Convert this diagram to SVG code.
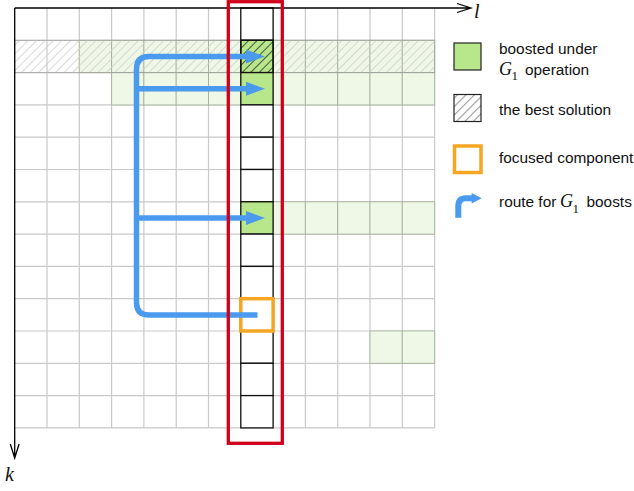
<svg xmlns="http://www.w3.org/2000/svg" width="634" height="491" viewBox="0 0 634 491">
<style>
.grid{stroke:#c9c9c9;stroke-width:1.2;fill:none}
.lg{fill:#eff8e6;stroke:#8c9a80;stroke-opacity:0.6;stroke-width:1}
.col{fill:#fff;stroke:#111;stroke-width:1.3}
.gr{fill:#b8e68a;stroke:#111;stroke-width:1.3}
.axis{stroke:#000;stroke-width:1.3;fill:none}
.route{stroke:#4a9af0;stroke-width:5.5;fill:none}
.txt{font-family:"Liberation Sans",Arial,sans-serif;font-size:15.4px;fill:#111}
.math{font-family:"Liberation Serif","Times New Roman",serif;font-style:italic;fill:#111}
.sub{font-family:"Liberation Serif","Times New Roman",serif;font-size:13px;fill:#111}
</style>
<defs>
<pattern id="hLight" width="6" height="6" patternUnits="userSpaceOnUse" patternTransform="rotate(45)">
<line x1="0" y1="0" x2="0" y2="6" stroke="#cfcfcf" stroke-width="1.6"/>
</pattern>
<pattern id="hDark" width="6" height="6" patternUnits="userSpaceOnUse" patternTransform="rotate(45)">
<line x1="0" y1="0" x2="0" y2="6" stroke="#3a4630" stroke-width="1.8"/>
</pattern>
<pattern id="hLegend" width="6" height="6" patternUnits="userSpaceOnUse" patternTransform="rotate(45)">
<line x1="0" y1="0" x2="0" y2="6" stroke="#999" stroke-width="2.2"/>
</pattern>
<marker id="ah" markerUnits="userSpaceOnUse" markerWidth="20" markerHeight="16" refX="0" refY="8" orient="auto">
<path d="M0,1 L19,8 L0,15 Z" fill="#4a9af0"/>
</marker>
</defs>

<g id="grid">
<path class="grid" d="M47 8V427.9M79.3 8V427.9M111.6 8V427.9M143.9 8V427.9M176.2 8V427.9M208.5 8V427.9M240.8 8V427.9M273.1 8V427.9M305.4 8V427.9M337.7 8V427.9M370 8V427.9M402.3 8V427.9M434.6 8V427.9M14.7 40.3H434.6M14.7 72.6H434.6M14.7 104.9H434.6M14.7 137.2H434.6M14.7 169.5H434.6M14.7 201.8H434.6M14.7 234.1H434.6M14.7 266.4H434.6M14.7 298.7H434.6M14.7 331H434.6M14.7 363.3H434.6M14.7 395.6H434.6M14.7 427.9H434.6"/>
</g>

<g id="light-boosted">
<rect class="lg" x="79.3" y="40.3" width="32.3" height="32.3"/>
<rect class="lg" x="111.6" y="40.3" width="32.3" height="32.3"/>
<rect class="lg" x="143.9" y="40.3" width="32.3" height="32.3"/>
<rect class="lg" x="176.2" y="40.3" width="32.3" height="32.3"/>
<rect class="lg" x="208.5" y="40.3" width="32.3" height="32.3"/>
<rect class="lg" x="273.1" y="40.3" width="32.3" height="32.3"/>
<rect class="lg" x="305.4" y="40.3" width="32.3" height="32.3"/>
<rect class="lg" x="337.7" y="40.3" width="32.3" height="32.3"/>
<rect class="lg" x="370" y="40.3" width="32.3" height="32.3"/>
<rect class="lg" x="402.3" y="40.3" width="32.3" height="32.3"/>
<rect class="lg" x="111.6" y="72.6" width="32.3" height="32.3"/>
<rect class="lg" x="143.9" y="72.6" width="32.3" height="32.3"/>
<rect class="lg" x="176.2" y="72.6" width="32.3" height="32.3"/>
<rect class="lg" x="208.5" y="72.6" width="32.3" height="32.3"/>
<rect class="lg" x="273.1" y="72.6" width="32.3" height="32.3"/>
<rect class="lg" x="305.4" y="72.6" width="32.3" height="32.3"/>
<rect class="lg" x="337.7" y="72.6" width="32.3" height="32.3"/>
<rect class="lg" x="370" y="72.6" width="32.3" height="32.3"/>
<rect class="lg" x="402.3" y="72.6" width="32.3" height="32.3"/>
<rect class="lg" x="273.1" y="201.8" width="32.3" height="32.3"/>
<rect class="lg" x="305.4" y="201.8" width="32.3" height="32.3"/>
<rect class="lg" x="337.7" y="201.8" width="32.3" height="32.3"/>
<rect class="lg" x="370" y="201.8" width="32.3" height="32.3"/>
<rect class="lg" x="402.3" y="201.8" width="32.3" height="32.3"/>
<rect class="lg" x="370" y="331" width="32.3" height="32.3"/>
<rect class="lg" x="402.3" y="331" width="32.3" height="32.3"/>
<rect x="14.7" y="40.3" width="419.9" height="32.3" fill="url(#hLight)" stroke="#9a9a9a" stroke-opacity="0.6" stroke-width="1"/>
</g>

<g id="column">
<rect class="col" x="240.8" y="8" width="32.3" height="32.3"/>
<rect class="gr" x="240.8" y="40.3" width="32.3" height="32.3"/>
<rect x="240.8" y="40.3" width="32.3" height="32.3" fill="url(#hDark)" stroke="#111" stroke-width="1.3"/>
<rect class="gr" x="240.8" y="72.6" width="32.3" height="32.3"/>
<rect class="col" x="240.8" y="104.9" width="32.3" height="32.3"/>
<rect class="col" x="240.8" y="137.2" width="32.3" height="32.3"/>
<rect class="col" x="240.8" y="169.5" width="32.3" height="32.3"/>
<rect class="gr" x="240.8" y="201.8" width="32.3" height="32.3"/>
<rect class="col" x="240.8" y="234.1" width="32.3" height="32.3"/>
<rect class="col" x="240.8" y="266.4" width="32.3" height="32.3"/>
<rect class="col" x="240.8" y="298.7" width="32.3" height="32.3"/>
<rect class="col" x="240.8" y="331" width="32.3" height="32.3"/>
<rect class="col" x="240.8" y="363.3" width="32.3" height="32.3"/>
<rect class="col" x="240.8" y="395.6" width="32.3" height="32.3"/>
</g>

<g id="axes">
<path class="axis" d="M14.7 8H471M457 3.5L471 8L457 12.5"/>
<path class="axis" d="M14.7 8V458M10.3 444L14.7 458L19.1 444"/>
<text class="math" x="474" y="17.5" font-size="20">l</text>
<text class="math" x="5" y="481" font-size="20">k</text>
</g>

<g id="focused">
<rect x="240.8" y="298.7" width="32.3" height="32.3" fill="none" stroke="#f5a623" stroke-width="3.5"/>
</g>

<g id="connectors">
<path class="route" d="M257.5 314.9H149Q136.5 314.9 136.5 302.4V69Q136.5 56.5 149 56.5H246" marker-end="url(#ah)"/>
<path class="route" d="M136.5 88.8H246" marker-end="url(#ah)"/>
<path class="route" d="M136.5 218H246" marker-end="url(#ah)"/>
</g>

<g id="selection">
<rect x="228.3" y="1.7" width="54" height="441.6" fill="none" stroke="#d0021b" stroke-width="3.3"/>
</g>

<g id="legend">
<g id="legend-boosted">
<rect x="454" y="43" width="27" height="27" fill="#b8e68a" stroke="#222" stroke-width="1.2"/>
<text class="txt" x="499" y="54">boosted under</text>
<text class="math" x="499" y="74.5" font-size="18">G</text>
<text class="sub" x="511.5" y="80">1</text>
<text class="txt" x="525" y="74.5">operation</text>
</g>
<g id="legend-best">
<rect x="454" y="94.5" width="27" height="27" fill="url(#hLegend)" stroke="#222" stroke-width="1.2"/>
<text class="txt" x="499" y="115">the best solution</text>
</g>
<g id="legend-focused">
<rect x="454.5" y="146" width="26.5" height="26.5" fill="#fff" stroke="#f5a623" stroke-width="3.5"/>
<text class="txt" x="499" y="162.5">focused component</text>
</g>
<g id="legend-route">
<path d="M458.3 217.7V206Q458.3 198.3 466 198.3H472.5" stroke="#4a9af0" stroke-width="6" fill="none"/>
<path d="M471.7 193L481.7 198.3L471.7 203.6Z" fill="#4a9af0"/>
<text class="txt" x="499" y="207">route for</text>
<text class="math" x="560" y="207" font-size="18">G</text>
<text class="sub" x="572.5" y="212.5">1</text>
<text class="txt" x="586.5" y="207">boosts</text>
</g>
</g>
</svg>
